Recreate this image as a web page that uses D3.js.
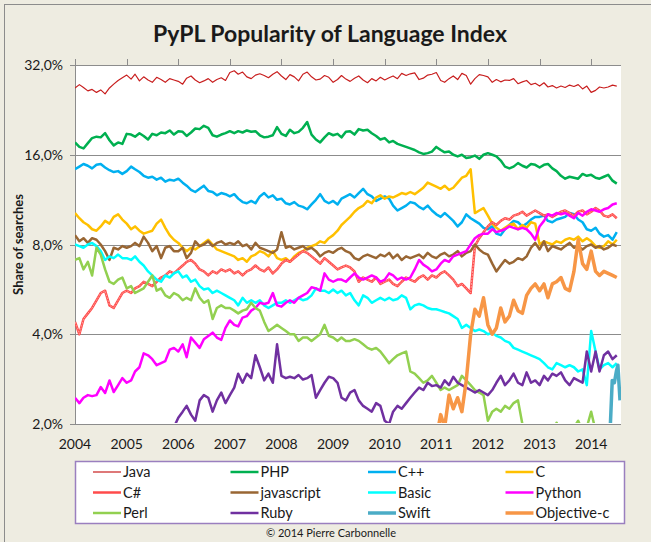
<!DOCTYPE html>
<html>
<head>
<meta charset="utf-8">
<script src="https://cdn.jsdelivr.net/npm/d3@7"></script>
<style>
  body { margin: 0; background: #eeece1; }
  svg text { font-family: Lato, "Open Sans", sans-serif; fill: #1a1a1a; }
</style>
</head>
<body>
<div id="chart"></div>
<script>
// monthly share of searches (%), Jan 2004 .. Jul 2014
var java = [26.8,27.5,26.9,26.2,26.5,25.9,26.4,25.6,26.8,27.6,28.4,29.0,
  29.6,28.7,29.8,28.3,29.2,28.5,28.0,29.1,28.6,28.0,28.8,28.5,
  28.2,27.6,28.9,29.4,28.5,27.9,28.3,28.8,28.0,28.6,29.0,28.4,
  30.2,30.6,29.8,30.3,29.2,28.8,29.6,29.9,29.5,29.0,29.8,30.4,
  29.4,28.6,29.7,29.2,28.3,29.8,30.3,29.2,28.5,28.7,29.5,29.1,
  28.0,28.6,29.5,28.7,28.2,28.9,29.4,28.5,27.9,28.8,28.3,29.1,
  28.5,29.0,29.4,28.8,30.0,29.5,29.9,30.1,28.6,28.9,29.6,29.8,
  30.2,28.4,28.0,28.8,29.4,28.6,30.0,29.5,27.6,28.8,29.7,29.5,
  29.2,28.0,28.6,28.1,28.5,28.4,28.8,27.7,28.1,28.4,27.5,27.8,
  27.2,27.9,27.0,27.3,26.8,27.2,26.9,27.4,27.1,27.5,26.6,27.2,
  25.9,26.3,27.0,26.8,27.0,27.4,27.2];
var php = [17.6,17.0,16.8,17.5,18.2,18.4,18.3,18.9,17.9,17.2,17.6,17.4,
  18.8,18.7,18.4,18.9,18.5,18.0,18.8,18.6,19.0,18.9,19.3,18.7,
  19.2,19.1,18.5,19.0,19.6,19.5,20.0,19.7,18.6,18.4,18.7,18.9,
  19.2,18.9,19.2,19.0,19.3,19.1,19.2,18.6,18.3,18.4,18.6,19.8,
  18.8,18.5,19.4,18.9,19.1,19.7,20.6,18.7,18.0,17.6,18.3,18.9,
  18.6,18.8,18.3,19.1,19.2,18.7,19.5,19.3,19.4,18.9,18.5,18.0,
  18.2,17.6,17.8,17.4,17.2,17.0,16.8,16.6,16.3,16.1,16.2,16.4,
  17.0,16.6,16.3,16.4,16.0,15.8,16.0,15.6,15.7,15.9,15.5,16.0,
  16.2,16.0,15.8,15.3,14.6,14.4,14.6,15.0,14.7,14.5,14.9,14.8,
  14.5,14.8,14.9,14.4,14.1,13.6,13.3,13.5,13.4,13.3,13.8,13.6,
  13.7,13.4,13.3,13.5,13.7,13.1,12.8];
var cpp = [14.3,14.6,14.9,14.7,14.4,14.8,14.9,14.5,14.2,14.0,14.1,13.8,
  14.1,14.6,14.3,14.0,13.6,13.4,13.5,13.2,13.4,13.0,13.2,13.1,
  13.3,12.9,12.6,12.2,12.0,12.3,12.6,12.1,12.0,11.7,11.9,11.8,
  11.6,11.8,11.4,11.1,11.0,11.2,11.0,11.6,11.9,11.5,11.7,11.3,
  11.4,11.0,10.9,11.1,10.8,10.7,10.5,10.9,11.3,11.8,11.2,11.0,
  11.2,10.9,11.4,11.6,11.8,11.5,11.9,12.3,11.8,11.6,11.2,11.4,
  11.6,11.4,10.8,10.4,10.6,10.8,11.1,11.0,10.7,10.5,10.8,10.4,
  10.1,9.9,10.2,9.9,9.6,9.2,9.5,10.1,9.8,9.6,9.4,9.1,
  9.0,9.2,8.7,8.6,9.0,9.3,9.6,9.5,9.2,9.4,9.7,9.9,
  9.9,10.0,9.6,9.5,9.7,9.8,9.9,10.2,10.1,9.7,9.5,9.0,
  8.9,9.1,8.7,8.5,8.6,8.3,8.8];
var c = [10.2,9.8,9.5,9.3,9.0,8.9,9.2,9.6,9.4,9.9,10.1,9.7,
  9.4,9.0,9.2,8.9,8.7,8.8,8.9,9.4,9.7,9.1,8.6,8.3,
  8.1,7.8,7.6,7.8,7.7,7.9,8.1,8.3,8.0,7.7,7.6,7.5,
  7.4,7.3,7.1,7.2,7.0,7.3,7.4,7.6,7.5,7.3,7.6,7.2,
  7.1,7.2,7.0,7.3,7.5,7.6,7.8,7.9,8.0,8.2,8.1,8.4,
  8.6,8.9,9.3,9.6,9.9,10.3,10.6,10.8,11.2,11.0,11.5,11.7,
  11.4,11.6,11.5,11.7,11.9,11.8,12.0,11.8,12.1,12.4,12.9,12.7,
  12.5,12.3,12.6,12.2,12.4,12.9,13.4,13.6,14.3,10.2,10.4,10.6,
  10.0,9.4,9.1,8.9,9.1,9.3,9.4,9.0,9.3,9.1,9.5,9.4,
  8.0,8.2,8.1,8.0,8.2,8.1,8.3,8.4,8.3,8.5,8.2,8.4,
  8.2,7.9,7.8,7.9,8.2,8.0,8.3];
var csharp = [4.4,4.0,4.5,4.7,4.9,5.2,5.5,5.6,5.0,4.9,5.2,5.5,
  5.6,5.5,5.7,5.8,6.0,5.9,5.8,6.0,6.2,6.3,6.5,6.4,
  6.6,6.8,7.0,7.1,6.9,6.6,6.5,6.3,6.5,6.4,6.6,6.5,
  6.6,6.4,6.5,6.3,6.5,6.6,6.8,6.6,6.5,6.7,6.4,6.6,
  6.9,7.1,7.0,7.2,7.4,7.6,7.5,7.3,7.1,6.9,7.2,7.0,
  6.8,6.6,6.7,6.8,6.7,6.5,6.0,6.2,6.1,6.0,6.2,5.9,
  6.0,6.1,5.9,5.8,6.0,6.2,6.1,6.0,6.2,6.3,6.1,6.3,
  6.2,6.4,6.5,6.3,6.1,5.8,5.9,5.7,5.5,7.9,8.4,8.8,
  9.2,9.5,9.3,9.6,9.8,9.7,10.0,10.1,10.3,10.0,10.2,10.4,
  10.2,10.0,10.1,9.9,10.1,10.3,10.4,10.2,10.0,10.3,10.4,10.1,
  10.3,10.6,10.4,10.0,9.9,10.1,9.8];
var javascript = [8.6,8.2,8.4,8.1,8.4,8.3,8.0,7.6,7.1,7.8,7.7,7.9,
  7.8,7.9,8.1,7.9,8.5,8.1,7.6,7.9,7.2,7.8,7.9,7.6,
  7.6,7.8,7.2,7.5,8.2,7.9,8.0,8.2,7.9,8.1,8.2,8.0,
  8.1,8.0,8.2,7.9,8.0,7.7,8.1,7.8,7.7,7.6,7.5,7.7,
  8.8,7.8,7.9,7.7,7.8,7.9,7.7,7.8,7.6,7.3,7.5,7.6,
  7.5,7.7,7.8,7.6,7.5,7.2,7.1,7.3,7.4,7.3,7.2,7.4,
  7.3,7.5,7.2,7.4,7.1,7.3,7.2,7.3,7.4,7.2,7.5,7.3,
  7.2,7.4,7.5,7.3,7.4,7.6,7.3,7.5,7.6,8.0,7.7,7.5,
  7.4,6.9,6.5,6.8,7.1,6.9,7.0,7.2,7.1,7.3,7.8,8.1,
  7.7,8.2,7.6,7.9,7.8,7.7,7.9,8.1,7.8,7.9,7.7,7.9,
  8.0,7.8,7.9,7.7,7.8,8.0,7.9];
var basic = [8.0,7.9,7.8,8.0,8.1,7.9,7.6,7.1,7.3,7.2,7.4,7.2,
  7.2,7.1,7.3,7.0,6.8,6.5,6.3,6.1,6.0,6.3,6.2,6.4,
  6.5,6.2,6.3,6.0,6.1,5.8,5.65,5.7,5.5,5.6,5.5,5.4,
  5.3,5.2,5.0,5.3,5.1,5.2,5.1,5.2,5.0,4.9,5.0,5.1,
  5.1,5.2,5.1,5.2,5.3,5.2,5.25,5.4,5.7,5.6,5.6,5.5,
  5.65,5.5,5.6,5.4,5.5,5.2,5.0,5.4,5.3,5.1,5.2,5.3,
  5.2,5.3,5.2,5.25,5.4,5.3,4.85,5.0,5.05,5.0,4.9,4.85,
  4.85,4.8,4.75,4.7,4.6,4.5,4.2,4.3,4.2,4.1,4.15,4.1,
  4.0,4.05,3.95,3.9,3.8,3.75,3.6,3.55,3.5,3.45,3.4,3.35,
  3.3,3.2,3.1,3.05,3.2,3.15,3.1,3.15,3.1,3.0,3.05,2.7,
  4.1,3.5,3.05,3.15,3.2,3.1,3.2];
var python = [2.45,2.35,2.45,2.5,2.48,2.5,2.66,2.54,2.8,2.56,2.7,2.85,
  2.75,2.8,3.0,3.1,3.45,3.4,3.3,3.15,3.2,3.25,3.55,3.6,
  3.5,3.7,3.35,3.9,3.75,3.6,3.85,3.95,4.05,3.9,3.83,4.2,
  4.45,4.3,4.25,4.55,4.6,4.8,4.9,5.1,5.05,5.1,5.5,5.0,
  4.95,5.1,5.2,5.1,5.3,5.4,5.5,5.75,5.7,5.6,6.4,6.1,
  6.0,6.1,6.1,6.0,6.2,6.4,6.2,6.1,6.2,6.3,6.2,6.0,
  6.1,6.4,6.3,6.1,6.2,6.1,6.2,6.6,7.1,6.85,6.7,6.5,
  6.6,6.9,7.1,7.0,7.3,7.4,7.5,7.6,8.0,8.4,8.6,8.7,
  8.7,9.0,8.8,8.9,9.0,9.2,9.1,9.0,9.1,9.0,8.7,8.3,
  9.2,9.6,10.1,10.0,10.2,10.1,10.2,10.0,9.8,10.2,10.0,10.3,
  10.5,10.4,10.3,10.5,10.6,10.9,11.0];
var perl = [7.1,7.2,6.6,7.0,6.3,7.8,7.4,6.6,6.0,5.9,6.1,6.2,
  5.7,5.8,5.5,5.6,5.7,6.0,6.3,5.6,5.7,5.4,5.3,5.5,
  5.4,5.2,5.3,5.2,5.7,5.3,5.1,5.2,4.5,4.9,5.0,4.9,
  4.9,4.8,4.7,4.8,4.85,5.1,4.9,4.8,4.4,4.1,4.2,4.3,
  4.2,4.1,4.0,4.0,3.8,3.9,3.9,3.8,3.9,4.0,4.3,3.95,
  3.9,3.8,3.9,3.8,3.8,3.85,3.8,3.7,3.6,3.55,3.6,3.5,
  3.35,3.2,3.3,3.4,3.45,3.5,3.0,2.95,2.85,2.75,2.8,2.9,
  2.75,2.6,2.65,2.6,2.65,2.7,2.9,2.8,2.7,2.6,2.55,2.5,
  2.05,2.2,2.25,2.2,2.3,2.25,2.35,2.4,2.0,1.9,1.85,1.9,
  1.85,1.8,1.85,1.8,2.02,1.9,1.85,1.9,1.95,2.05,1.9,1.95,
  2.2,1.9,1.85,1.8,1.85,1.9,1.95];
// Ruby from Dec 2005
var ruby = [1.95,
  2.1,2.2,2.3,2.15,2.05,2.4,2.5,2.45,2.2,2.4,2.55,2.35,
  2.5,2.65,2.95,2.75,2.95,2.85,3.4,3.1,2.8,2.95,2.75,3.7,
  2.9,2.85,2.88,2.85,2.92,2.82,2.85,2.92,2.45,2.6,2.75,2.88,
  2.85,2.75,2.45,2.4,2.55,2.6,2.4,2.3,2.25,2.2,2.35,2.3,
  2.05,2.0,2.2,2.3,2.25,2.35,2.45,2.55,2.65,2.6,2.75,2.68,
  2.7,2.65,2.8,2.7,2.88,2.75,2.7,2.65,2.6,2.55,2.6,2.55,
  2.5,2.6,2.75,2.9,2.7,2.8,2.95,2.75,2.7,2.98,2.75,2.8,
  2.7,2.9,2.8,2.95,2.9,2.98,2.8,2.7,2.85,2.8,2.75,3.5,
  3.0,3.5,3.0,3.4,3.5,3.3,3.4];
// Objective-c from Jan 2011
var objc = [1.8,2.15,1.95,2.5,2.25,2.45,2.2,2.8,4.0,4.85,4.6,5.3,
  4.3,4.0,4.2,4.9,4.4,4.6,5.2,4.8,4.7,5.4,5.7,5.9,
  5.6,5.9,5.3,5.9,6.0,6.2,5.7,5.6,6.5,8.3,6.9,6.6,
  7.6,6.5,6.3,6.5,6.4,6.3,6.2];
// Swift, weekly from its launch
var swiftDates = ['2014-05-15','2014-05-30','2014-06-14','2014-06-28','2014-07-09','2014-07-24'];
var swift = [1.9,2.8,2.75,3.0,3.15,2.4];

var yTicks = [2, 4, 8, 16, 32];
var xYears = [2004,2005,2006,2007,2008,2009,2010,2011,2012,2013,2014];

(function(){
  function monthly(values, year, month) {
    return values.map(function(v, i) { return { date: new Date(year, month + i, 1), v: v } })
  }

  var series = [
    { name: 'Java', color: '#c81e1e', w: 1.2, data: monthly(java, 2004, 0) },
    { name: 'PHP', color: '#00b050', w: 2.5, data: monthly(php, 2004, 0) },
    { name: 'C++', color: '#00b0f0', w: 2.5, data: monthly(cpp, 2004, 0) },
    { name: 'C', color: '#ffc000', w: 2.5, data: monthly(c, 2004, 0) },
    { name: 'C#', color: '#ff4b4b', w: 2.5, inner: '#ffb0a8', data: monthly(csharp, 2004, 0) },
    { name: 'javascript', color: '#996633', w: 2.5, data: monthly(javascript, 2004, 0) },
    { name: 'Basic', color: '#00ffff', w: 2.5, data: monthly(basic, 2004, 0) },
    { name: 'Python', color: '#ff00ff', w: 2.5, data: monthly(python, 2004, 0) },
    { name: 'Perl', color: '#92d050', w: 2.5, data: monthly(perl, 2004, 0) },
    { name: 'Ruby', color: '#7030a0', w: 2.5, data: monthly(ruby, 2005, 11) },
    { name: 'Swift', color: '#4bacc6', w: 3.5, data: swift.map(function(v, i) { return { date: new Date(swiftDates[i]), v: v } }) },
    { name: 'Objective-c', color: '#f79646', w: 3.5, data: monthly(objc, 2011, 0) }
  ]

  var width = 651, height = 542
  var pLeft = 75, pRight = 621, pTop = 65, pBottom = 424

  var svg = d3.select('#chart').append('svg')
    .attr('width', width)
    .attr('height', height)

  svg.append('rect')
    .attr('x', 4.5).attr('y', 4.5)
    .attr('width', 700).attr('height', 600)
    .attr('fill', '#eeece1')
    .attr('stroke', '#8c8c8c')

  svg.append('text')
    .attr('x', 330).attr('y', 42)
    .attr('text-anchor', 'middle')
    .style('font-size', '23px').style('font-weight', 'bold')
    .text('PyPL Popularity of Language Index')

  var x = d3.scaleTime()
    .domain([new Date(2004, 0, 1), new Date(2014, 6, 31)])
    .range([pLeft, pRight])
  var y = d3.scaleLog().base(2).domain([2, 32]).range([pBottom, pTop])

  svg.append('rect')
    .attr('x', pLeft).attr('y', pTop)
    .attr('width', pRight - pLeft).attr('height', pBottom - pTop)
    .attr('fill', '#fff')

  svg.append('clipPath').attr('id', 'plot')
    .append('rect')
    .attr('x', pLeft).attr('y', pTop - 2)
    .attr('width', pRight - pLeft).attr('height', pBottom - pTop + 1)

  // gridlines
  svg.append('g').selectAll('line')
    .data(yTicks)
    .enter().append('line')
    .attr('x1', pLeft - 5).attr('x2', pRight)
    .attr('y1', function(d) { return Math.round(y(d)) + 0.5 })
    .attr('y2', function(d) { return Math.round(y(d)) + 0.5 })
    .attr('stroke', '#8c8c8c')

  svg.append('g').selectAll('text')
    .data(yTicks)
    .enter().append('text')
    .attr('x', pLeft - 12)
    .attr('y', function(d) { return y(d) + 5 })
    .attr('text-anchor', 'end')
    .style('font-size', '14px')
    .text(function(d) { return d3.format('.1f')(d).replace('.', ',') + '%' })

  svg.append('line')
    .attr('x1', pLeft + 0.5).attr('x2', pLeft + 0.5)
    .attr('y1', pTop).attr('y2', pBottom)
    .attr('stroke', '#8c8c8c')

  // year ticks on the top edge, labels under the plot
  svg.append('g').selectAll('line')
    .data(xYears)
    .enter().append('line')
    .attr('x1', function(d) { return Math.round(x(new Date(d, 0, 1))) + 0.5 })
    .attr('x2', function(d) { return Math.round(x(new Date(d, 0, 1))) + 0.5 })
    .attr('y1', pTop - 6).attr('y2', pTop)
    .attr('stroke', '#8c8c8c')

  svg.append('g').selectAll('text')
    .data(xYears)
    .enter().append('text')
    .attr('x', function(d) { return x(new Date(d, 0, 1)) })
    .attr('y', 449)
    .attr('text-anchor', 'middle')
    .style('font-size', '14px')
    .text(function(d) { return d })

  svg.append('text')
    .attr('transform', 'translate(23,' + (pTop + pBottom) / 2 + ') rotate(-90)')
    .attr('text-anchor', 'middle')
    .style('font-size', '13px').style('font-weight', 'bold')
    .text('Share of searches')

  var line = d3.line()
    .x(function(d) { return x(d.date) })
    .y(function(d) { return y(d.v) })

  var lines = svg.append('g').attr('clip-path', 'url(#plot)')

  series.forEach(function(s) {
    lines.append('path')
      .attr('d', line(s.data))
      .attr('fill', 'none')
      .attr('stroke', s.color)
      .attr('stroke-width', s.w)
      .attr('stroke-linejoin', 'round')
    if (s.inner) {
      lines.append('path')
        .attr('d', line(s.data))
        .attr('fill', 'none')
        .attr('stroke', s.inner)
        .attr('stroke-width', 0.8)
        .attr('stroke-dasharray', '2,1')
    }
  })

  // legend
  svg.append('rect')
    .attr('x', 75.5).attr('y', 461.5)
    .attr('width', 549).attr('height', 62)
    .attr('fill', '#fff')
    .attr('stroke', '#9a7fbf')
    .attr('stroke-width', 1.5)

  var legend = svg.append('g').selectAll('g')
    .data(series)
    .enter().append('g')
    .attr('transform', function(d, i) {
      return 'translate(' + (93 + (i % 4) * 137.5) + ',' + (472 + Math.floor(i / 4) * 20.5) + ')'
    })

  legend.append('line')
    .attr('x1', 0).attr('x2', 28)
    .attr('stroke', function(d) { return d.color })
    .attr('stroke-width', function(d) { return d.w })

  legend.append('text')
    .attr('x', 30).attr('y', 5)
    .style('font-size', '14.5px')
    .text(function(d) { return d.name })

  svg.append('text')
    .attr('x', 331).attr('y', 537)
    .attr('text-anchor', 'middle')
    .style('font-size', '11px')
    .text('\u00a9 2014 Pierre Carbonnelle')
})()
</script>
</body>
</html>
